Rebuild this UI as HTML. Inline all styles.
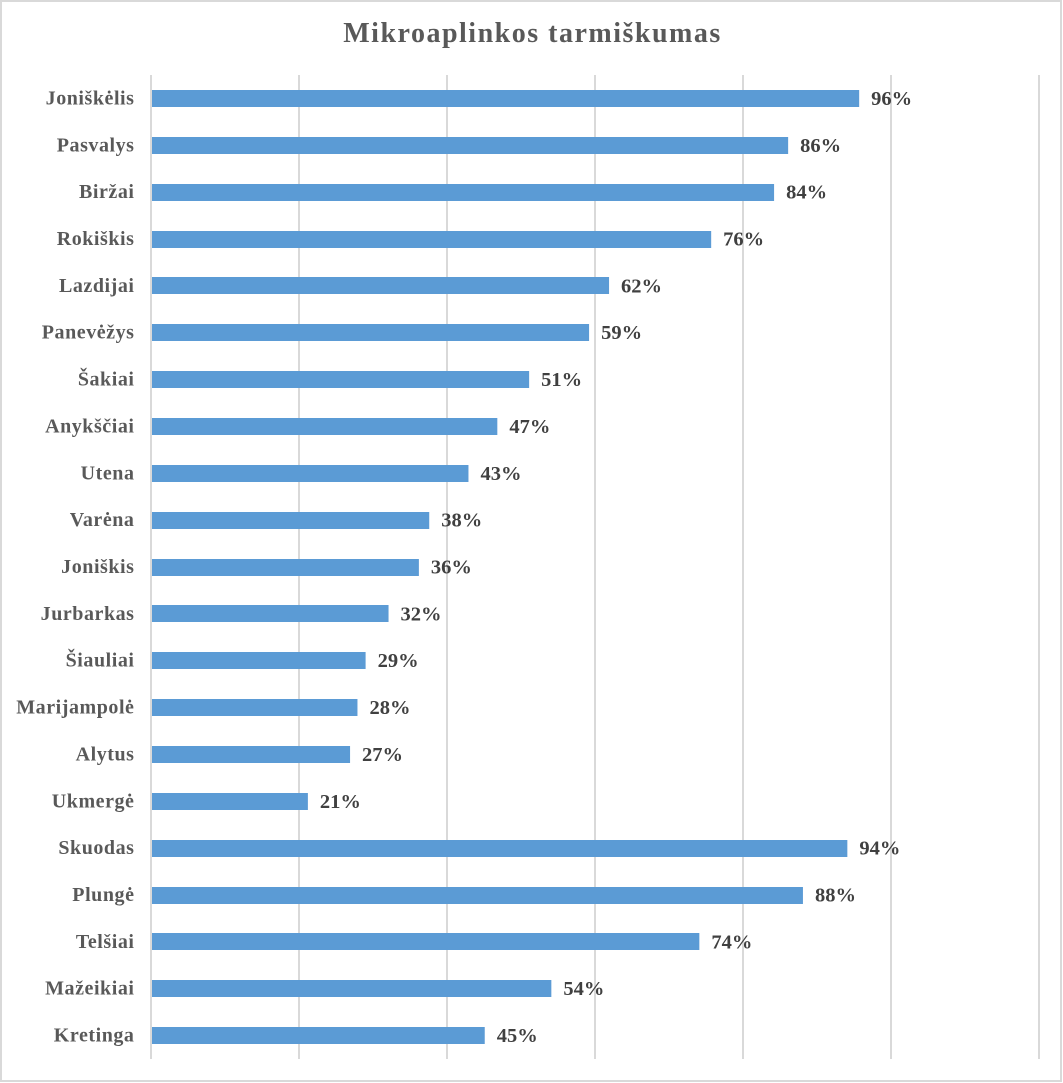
<!DOCTYPE html>
<html lang="lt">
<head>
<meta charset="utf-8">
<title>Mikroaplinkos tarmiškumas</title>
<style>
html,body{margin:0;padding:0;background:#fff;width:1063px;height:1083px;overflow:hidden}
svg{display:block}
text{font-family:"Liberation Serif",serif;font-weight:bold}
</style>
</head>
<body>
<svg id="chart" xmlns="http://www.w3.org/2000/svg" width="1063" height="1083" viewBox="0 0 1063 1083">
<rect x="1" y="1" width="1060" height="1080" fill="#fff" stroke="#d9d9d9" stroke-width="2"/>
<text x="532.5" y="42" text-anchor="middle" font-size="28" letter-spacing="1.5" fill="#595959">Mikroaplinkos tarmiškumas</text>
<g id="grid"></g>
<g id="bars"></g>
<g id="cats"></g>
<g id="vals"></g>
</svg>
<script>
const categories = ["Joniškėlis","Pasvalys","Biržai","Rokiškis","Lazdijai","Panevėžys","Šakiai","Anykščiai","Utena","Varėna","Joniškis","Jurbarkas","Šiauliai","Marijampolė","Alytus","Ukmergė","Skuodas","Plungė","Telšiai","Mažeikiai","Kretinga"];
const values = [95.7,86.1,84.2,75.7,61.9,59.2,51.1,46.8,42.9,37.6,36.2,32.1,29,27.9,26.9,21.2,94.1,88.1,74.1,54.1,45.1];
const valueLabels = ["96%","86%","84%","76%","62%","59%","51%","47%","43%","38%","36%","32%","29%","28%","27%","21%","94%","88%","74%","54%","45%"];
const gridTicks = [0,20,40,60,80,100,120];

const NS = "http://www.w3.org/2000/svg";
const plot = {left:151, right:1039, top:75, bottom:1059};
const xMax = gridTicks[gridTicks.length - 1];
function xScale(v){ return plot.left + v / xMax * (plot.right - plot.left); }
function yBand(i){ return plot.top + (i + 0.5) * (plot.bottom - plot.top) / categories.length; }
function make(tag, attrs){
  const el = document.createElementNS(NS, tag);
  for (const k in attrs) el.setAttribute(k, attrs[k]);
  return el;
}
const barH = 17;
gridTicks.forEach(function(t){
  const line = make("line", {x1:xScale(t), x2:xScale(t), y1:plot.top, y2:plot.bottom, stroke:"#d9d9d9", "stroke-width":2});
  
  
  document.getElementById("grid").appendChild(line);
});
categories.forEach(function(c, i){
  const cy = yBand(i);
  const bar = make("rect", {x:plot.left + 1, y:Math.round(cy - barH / 2), width:xScale(values[i]) - plot.left - 1, height:barH, fill:"#5b9bd5"});
  
  
  document.getElementById("bars").appendChild(bar);

  const cat = make("text", {x:134.5, y:cy + 6, "text-anchor":"end", "font-size":20, "letter-spacing":0.55, fill:"#595959"});
  
  
  cat.textContent = c;
  document.getElementById("cats").appendChild(cat);

  const val = make("text", {x:xScale(values[i]) + 12, y:cy + 6.5, "font-size":20.5, fill:"#404040"});
  
  
  val.textContent = valueLabels[i];
  document.getElementById("vals").appendChild(val);
});
</script>
</body>
</html>
